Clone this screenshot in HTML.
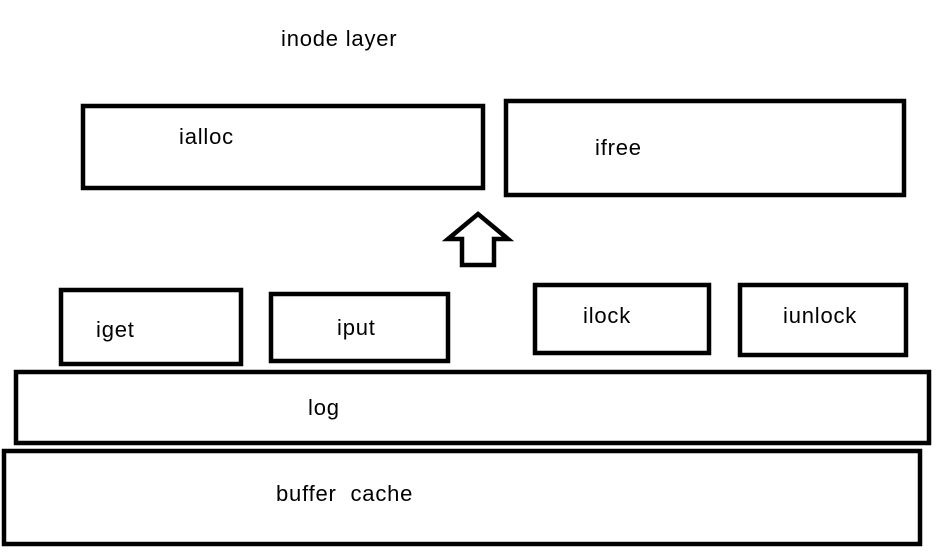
<!DOCTYPE html>
<html><head><style>html,body{margin:0;padding:0;background:#fff;}svg{display:block}</style></head>
<body>
<svg width="940" height="557" viewBox="0 0 940 557" xmlns="http://www.w3.org/2000/svg">
<g fill="none" stroke="#000" stroke-width="4.5">
<rect x="83" y="106" width="400" height="82"/>
<rect x="506" y="101" width="398" height="94"/>
<rect x="61" y="290" width="180" height="74"/>
<rect x="271" y="294" width="177" height="67"/>
<rect x="535" y="285" width="174" height="68"/>
<rect x="740" y="285" width="166" height="70"/>
<rect x="16" y="372" width="913" height="71"/>
<rect x="4" y="451" width="916" height="93"/>
<polygon points="478,214 508,239 494,239 494,265 462,265 462,239 448,239" stroke-linejoin="miter"/>
</g>
<g font-family="Liberation Sans, sans-serif" font-size="22" fill="#000" letter-spacing="0.8">
<text x="281" y="46">inode layer</text>
<text x="179" y="144">ialloc</text>
<text x="595" y="155">ifree</text>
<text x="96" y="337">iget</text>
<text x="337" y="335">iput</text>
<text x="583" y="323">ilock</text>
<text x="783" y="323">iunlock</text>
<text x="308" y="415">log</text>
<text x="276" y="501" xml:space="preserve">buffer  cache</text>
</g>
</svg>
</body></html>
